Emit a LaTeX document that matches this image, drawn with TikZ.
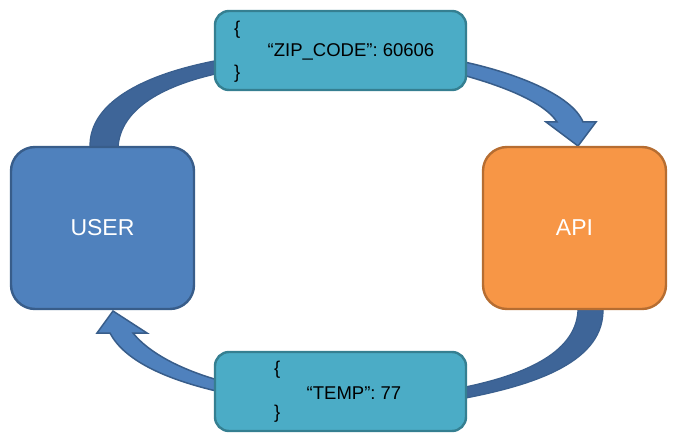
\documentclass[tikz,border=0pt]{standalone}
\usepackage{fontspec}
\setmainfont{Liberation Sans}
\begin{document}
\begin{tikzpicture}[x=1pt,y=-1pt]
\definecolor{ublue}{HTML}{4F81BD}
\definecolor{ublueb}{HTML}{385D8A}
\definecolor{dblue}{HTML}{3E6598}
\definecolor{dblueb}{HTML}{3A5F8E}
\definecolor{aorange}{HTML}{F79646}
\definecolor{aorangeb}{HTML}{B66D31}
\definecolor{jteal}{HTML}{4BACC6}
\definecolor{jtealb}{HTML}{357F91}
\tikzset{
  bigbox/.style={rounded corners=24pt, line width=2.4pt, minimum width=183pt, minimum height=162pt, inner sep=0pt, text=white, font=\fontsize{23}{26}\selectfont},
  jsonbox/.style={rounded corners=14pt, line width=2.4pt, fill=jteal, draw=jtealb, minimum width=251pt, minimum height=79pt, inner sep=0pt},
  jtext/.style={font=\fontsize{18.5}{21}\selectfont, inner sep=0pt},
  backband/.style={fill=dblue, draw=dblueb, line width=1.2pt, line join=round},
  frontband/.style={fill=ublue, draw=ublueb, line width=1.5pt, line join=miter},
}
\useasboundingbox (0,0) rectangle (675,441);
% back parts of the arrows
\draw[backband] (90,148) .. controls (88,100) and (150,72) .. (225,59)
  -- (225,72) .. controls (165,84) and (120,108) .. (118,148) -- cycle;
\draw[backband] (603,308) .. controls (605,360) and (540,385) .. (455,400)
  -- (455,389) .. controls (530,375) and (578,350) .. (578,308) -- cycle;
% front parts with heads
\draw[frontband] (455,60) .. controls (515,72) and (572,95) .. (583,122)
  -- (596,122) -- (578,146) -- (546,122) -- (557,122)
  .. controls (545,103) and (505,86) .. (455,73) -- cycle;
\draw[frontband] (225,393) .. controls (170,381) and (125,362) .. (110,333)
  -- (97,333) -- (113,311) -- (147,333) -- (133,333)
  .. controls (148,352) and (180,370) .. (225,382) -- cycle;
% boxes
\node[bigbox, fill=ublue, draw=ublueb] (user) at (102.5,228) {USER};
\node[bigbox, fill=aorange, draw=aorangeb] (api) at (574.5,228) {API};
\node[jsonbox] (req) at (340.5,50.5) {};
\node[jsonbox] (resp) at (340.5,391.5) {};
\node[jtext, anchor=west] (rq1) at (234,30) {\{};
\node[jtext] (rq2) at (351,52) {“ZIP\_CODE”: 60606};
\node[jtext, anchor=west] (rq3) at (234,74) {\}};
\node[jtext, anchor=west] (rs1) at (274,370) {\{};
\node[jtext] (rs2) at (354,393) {“TEMP”: 77};
\node[jtext, anchor=west] (rs3) at (274,414) {\}};
\end{tikzpicture}
\end{document}
